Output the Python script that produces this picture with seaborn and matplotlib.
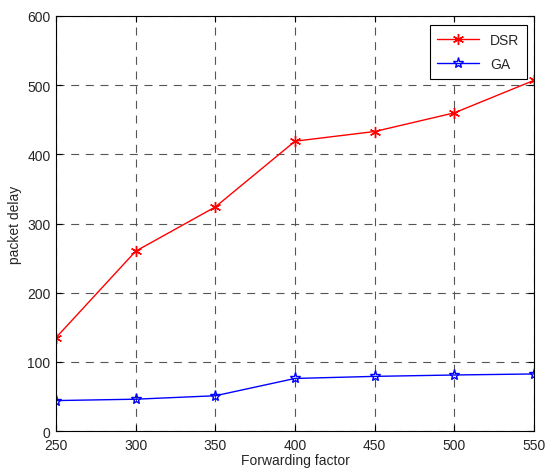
import matplotlib
matplotlib.use("Agg")
import matplotlib.pyplot as plt
import seaborn as sns
import pandas as pd

forwarding = [250, 300, 350, 400, 450, 500, 550]
dsr = [135, 260, 324, 419, 433, 460, 507]
ga = [44, 46, 51, 76, 79, 81, 82.5]

sns.set_style("white")
plt.rcParams['font.family'] = ['Liberation Sans', 'DejaVu Sans']

fig = plt.figure(figsize=(5.45, 4.77), dpi=100)
ax = fig.add_axes([0.1028, 0.0943, 0.8772, 0.8701])

df_dsr = pd.DataFrame({"x": forwarding, "y": dsr})
df_ga = pd.DataFrame({"x": forwarding, "y": ga})

sns.lineplot(data=df_dsr, x="x", y="y", ax=ax, color="#ff0000", lw=1.0,
             marker=(6, 2, 0), markersize=8, markeredgecolor="#ff0000",
             markeredgewidth=1.0, label="DSR")
sns.lineplot(data=df_ga, x="x", y="y", ax=ax, color="#0000ff", lw=1.0,
             marker="*", markersize=8, markerfacecolor="none",
             markeredgecolor="#0000ff", markeredgewidth=1.0, label="GA")

ax.set_xlim(250, 550)
ax.set_ylim(0, 600)
ax.set_xticks(forwarding)
ax.set_yticks([0, 100, 200, 300, 400, 500, 600])
ax.grid(True, color="#555555", linestyle=(0, (7.2, 6.0)), linewidth=0.8)
ax.tick_params(axis="both", labelsize=10, direction="in", length=4, color="black",
               bottom=True, left=True, top=True, right=True)
ax.tick_params(axis="x", pad=5)
ax.tick_params(axis="y", pad=4)
for s in ax.spines.values():
    s.set_color("black")
    s.set_linewidth(0.8)
ax.set_xlabel("Forwarding factor", fontsize=10, labelpad=1)
ax.set_ylabel("packet delay", fontsize=10, labelpad=4)

leg = ax.legend(loc="upper right", fontsize=10, frameon=True, fancybox=False,
                edgecolor="black", framealpha=1, borderpad=0.55, handlelength=3.0,
                labelspacing=0.75, borderaxespad=0, bbox_to_anchor=(0.985, 0.978))
leg.get_frame().set_linewidth(0.8)

fig.savefig("out.png", dpi=100)
